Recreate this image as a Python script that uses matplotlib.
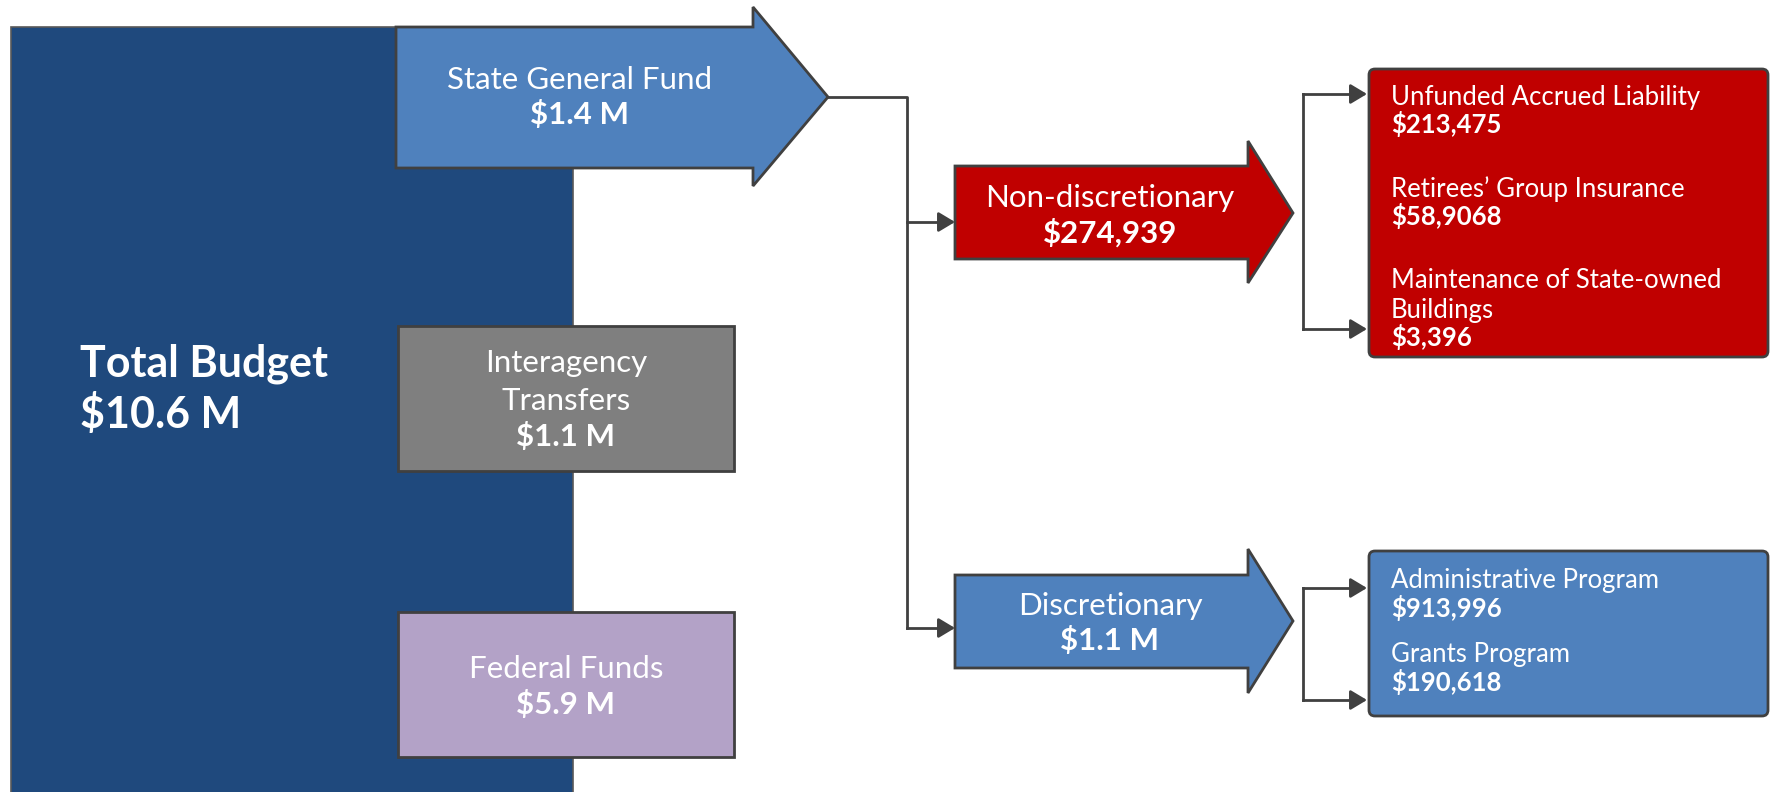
import matplotlib.pyplot as plt
from matplotlib.patches import Polygon, Rectangle, FancyBboxPatch, FancyArrowPatch

plt.rcParams['font.family'] = ['Lato', 'DejaVu Sans']

W, H = 1770, 792
fig = plt.figure(figsize=(W / 100, H / 100), dpi=100)
ax = fig.add_axes([0, 0, 1, 1])
ax.set_xlim(0, W)
ax.set_ylim(H, 0)
ax.axis('off')

EDGE = '#404040'
WHITE = 'white'

# big total budget block
ax.add_patch(Rectangle((11, 27), 562, 800, facecolor='#1F497D', edgecolor='#595959', lw=1.2))
ax.text(80, 376, 'Total Budget', color=WHITE, fontsize=31, fontweight='bold', va='baseline')
ax.text(80, 428, '$10.6 M', color=WHITE, fontsize=31, fontweight='bold', va='baseline')


def block_arrow(x0, x1, xtip, ytop, ybot, htop, hbot, ytip, color):
    pts = [(x0, ytop), (x1, ytop), (x1, htop), (xtip, ytip),
           (x1, hbot), (x1, ybot), (x0, ybot)]
    ax.add_patch(Polygon(pts, closed=True, facecolor=color, edgecolor=EDGE, lw=2, joinstyle='miter'))


def centre_text(x, lines, size=22.5):
    # lines: (text, baseline, bold)
    for txt, yb, bold in lines:
        ax.text(x, yb, txt, color=WHITE, fontsize=size, ha='center', va='baseline',
                fontweight='bold' if bold else 'normal')


# sources
block_arrow(396, 753, 828, 27, 168, 7, 186, 97, '#4F81BD')
centre_text(580, [('State General Fund', 89, False), ('$1.4 M', 124, True)])

sources = [
    {'y': 326, 'h': 145, 'color': '#7F7F7F',
     'lines': [('Interagency', 372, False), ('Transfers', 410, False), ('$1.1 M', 446, True)]},
    {'y': 612, 'h': 145, 'color': '#B3A2C7',
     'lines': [('Federal Funds', 678, False), ('$5.9 M', 714, True)]},
]
for s in sources:
    ax.add_patch(Rectangle((398, s['y']), 336, s['h'], facecolor=s['color'], edgecolor=EDGE, lw=2))
    centre_text(566, s['lines'])


def connector(pts, tip):
    xs = [p[0] for p in pts]
    ys = [p[1] for p in pts]
    ax.plot(xs, ys, color=EDGE, lw=2, solid_joinstyle='miter')
    ax.add_patch(FancyArrowPatch(pts[-1], tip, arrowstyle='-|>,head_length=10,head_width=6',
                                 mutation_scale=1, color=EDGE, lw=2, shrinkA=0, shrinkB=0))


# split of the state general fund
ax.plot([828, 907, 907], [97, 97, 628], color=EDGE, lw=2)
connector([(907, 222), (940, 222)], (955, 222))
connector([(907, 628), (940, 628)], (955, 628))

# categories
block_arrow(955, 1248, 1293, 166, 259, 141, 283, 213, '#C00000')
centre_text(1110, [('Non-discretionary', 207, False), ('$274,939', 243, True)])
block_arrow(955, 1248, 1293, 575, 668, 549, 693, 621, '#4F81BD')
centre_text(1110, [('Discretionary', 615, False), ('$1.1 M', 650, True)])

# detail boxes
details = [
    {'y0': 69, 'y1': 357, 'color': '#C00000', 'branch': (94, 329),
     'lines': [('Unfunded Accrued Liability', 105, False), ('$213,475', 133, True),
               ('Retirees\u2019 Group Insurance', 197, False), ('$58,9068', 225, True),
               ('Maintenance of State-owned', 288, False), ('Buildings', 318, False),
               ('$3,396', 346, True)]},
    {'y0': 551, 'y1': 716, 'color': '#4F81BD', 'branch': (588, 700),
     'lines': [('Administrative Program', 588, False), ('$913,996', 617, True),
               ('Grants Program', 662, False), ('$190,618', 691, True)]},
]
for d in details:
    ax.add_patch(FancyBboxPatch((1369, d['y0']), 399, d['y1'] - d['y0'],
                                boxstyle='round,pad=0,rounding_size=6',
                                facecolor=d['color'], edgecolor=EDGE, lw=2))
    ya, yb = d['branch']
    ax.plot([1303, 1303], [ya, yb], color=EDGE, lw=2)
    connector([(1303, ya), (1352, ya)], (1367, ya))
    connector([(1303, yb), (1352, yb)], (1367, yb))
    for txt, yl, bold in d['lines']:
        ax.text(1391, yl, txt, color=WHITE, fontsize=18.5, va='baseline',
                fontweight='bold' if bold else 'normal')

fig.savefig('out.png', dpi=100)
